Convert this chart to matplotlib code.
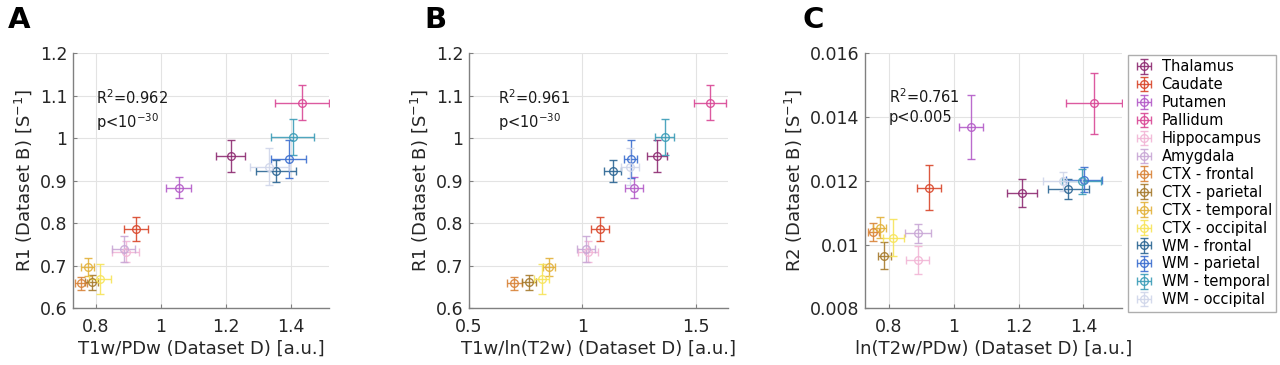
import matplotlib
matplotlib.use("Agg")
import matplotlib.pyplot as plt
import numpy as np

regions = ["Thalamus", "Caudate", "Putamen", "Pallidum", "Hippocampus", "Amygdala",
           "CTX - frontal", "CTX - parietal", "CTX - temporal", "CTX - occipital",
           "WM - frontal", "WM - parietal", "WM - temporal", "WM - occipital"]
colors = ["#8E2C72", "#D9472B", "#B45CC8", "#D94896", "#F2B6D6", "#C9A8D6",
          "#D9843A", "#A67B2E", "#E3B23C", "#F7E45A",
          "#2C6694", "#3D6FD0", "#3C9DB8", "#D0D6EA"]

# Dataset B R1 (shared by panels A and B)
r1 = [0.958, 0.786, 0.884, 1.084, 0.733, 0.740, 0.659, 0.661, 0.698, 0.669,
      0.923, 0.951, 1.003, 0.933]
r1_err = [0.037, 0.028, 0.024, 0.041, 0.025, 0.030, 0.015, 0.017, 0.021, 0.036,
          0.027, 0.045, 0.042, 0.044]

# Panel A: T1w/PDw
t1pd = [1.214, 0.924, 1.054, 1.433, 0.891, 0.885, 0.754, 0.787, 0.774, 0.812,
        1.354, 1.393, 1.405, 1.333]
t1pd_err = [0.045, 0.037, 0.039, 0.083, 0.041, 0.035, 0.018, 0.020, 0.020, 0.033,
            0.063, 0.054, 0.067, 0.060]

# Panel B: T1w/ln(T2w)
t1lnt2 = [1.331, 1.079, 1.228, 1.563, 1.025, 1.017, 0.700, 0.765, 0.853, 0.821,
          1.134, 1.214, 1.364, 1.211]
t1lnt2_err = [0.044, 0.041, 0.040, 0.070, 0.045, 0.040, 0.033, 0.030, 0.026, 0.033,
              0.039, 0.029, 0.041, 0.038]

# Panel C: ln(T2w/PDw) vs R2
lnt2pd = [1.211, 0.923, 1.054, 1.432, 0.888, 0.890, 0.752, 0.786, 0.772, 0.813,
          1.353, 1.401, 1.395, 1.336]
lnt2pd_err = [0.046, 0.036, 0.037, 0.086, 0.035, 0.040, 0.018, 0.020, 0.020, 0.033,
              0.063, 0.055, 0.060, 0.060]
r2 = [0.01161, 0.01178, 0.01368, 0.01443, 0.00952, 0.01035, 0.01040, 0.00965,
      0.01053, 0.01021, 0.01174, 0.01203, 0.01198, 0.01199]
r2_err = [0.00044, 0.00070, 0.00100, 0.00096, 0.00044, 0.00030, 0.00029, 0.00042,
          0.00034, 0.00058, 0.00031, 0.00039, 0.00038, 0.00030]

stats = [("R$^2$=0.962", "p<10$^{-30}$"), ("R$^2$=0.961", "p<10$^{-30}$"),
         ("R$^2$=0.761", "p<0.005")]

W, H = 1280, 365
fig = plt.figure(figsize=(W / 100, H / 100), dpi=100)

def ax_rect(l, r, t, b):
    return [l / W, 1 - b / H, (r - l) / W, (b - t) / H]

axA = fig.add_axes(ax_rect(72.7, 329.3, 53.3, 308.3))
axB = fig.add_axes(ax_rect(469, 727.7, 53.3, 308.3))
axC = fig.add_axes(ax_rect(865, 1121.7, 53.3, 308.3))

spine_col = "#808080"
tick_fs = 12.5
lab_fs = 13

def style(ax):
    ax.grid(True, color="#E3E3E3", linewidth=0.8)
    ax.set_axisbelow(True)
    for s in ["top", "right"]:
        ax.spines[s].set_visible(False)
    for s in ["left", "bottom"]:
        ax.spines[s].set_color(spine_col)
        ax.spines[s].set_linewidth(1.0)
    ax.tick_params(direction="in", length=3, color=spine_col, labelsize=tick_fs,
                   labelcolor="#262626")
    ax.tick_params(axis="x", pad=7)
    ax.tick_params(axis="y", pad=4)

def draw(ax, xs, xe, ys, ye):
    handles = []
    for i in range(len(regions)):
        h = ax.errorbar(xs[i], ys[i], xerr=xe[i], yerr=ye[i], fmt="o",
                        mfc="none", mec=colors[i], ms=5.5, mew=1.0,
                        ecolor=colors[i], elinewidth=1.0, capsize=3, capthick=1.0,
                        alpha=0.9, label=regions[i])
        handles.append(h)
    return handles

# Panel A
handles = draw(axA, t1pd, t1pd_err, r1, r1_err)
axA.set_xlim(0.728, 1.518)
axA.set_ylim(0.6, 1.2)
axA.set_xticks([0.8, 1.0, 1.2, 1.4])
axA.set_xticklabels(["0.8", "1", "1.2", "1.4"])
axA.set_yticks([0.6, 0.7, 0.8, 0.9, 1.0, 1.1, 1.2])
axA.set_yticklabels(["0.6", "0.7", "0.8", "0.9", "1", "1.1", "1.2"])
axA.set_xlabel("T1w/PDw (Dataset D) [a.u.]", fontsize=lab_fs, color="#262626", labelpad=3)
axA.set_ylabel("R1 (Dataset B) [S$^{-1}$]", fontsize=lab_fs, color="#262626")

# Panel B
draw(axB, t1lnt2, t1lnt2_err, r1, r1_err)
axB.set_xlim(0.5, 1.642)
axB.set_ylim(0.6, 1.2)
axB.set_xticks([0.5, 1.0, 1.5])
axB.set_xticklabels(["0.5", "1", "1.5"])
axB.set_yticks([0.6, 0.7, 0.8, 0.9, 1.0, 1.1, 1.2])
axB.set_yticklabels(["0.6", "0.7", "0.8", "0.9", "1", "1.1", "1.2"])
axB.set_xlabel("T1w/ln(T2w) (Dataset D) [a.u.]", fontsize=lab_fs, color="#262626", labelpad=3)
axB.set_ylabel("R1 (Dataset B) [S$^{-1}$]", fontsize=lab_fs, color="#262626")

# Panel C
draw(axC, lnt2pd, lnt2pd_err, r2, r2_err)
axC.set_xlim(0.726, 1.518)
axC.set_ylim(0.008, 0.016)
axC.set_xticks([0.8, 1.0, 1.2, 1.4])
axC.set_xticklabels(["0.8", "1", "1.2", "1.4"])
axC.set_yticks([0.008, 0.010, 0.012, 0.014, 0.016])
axC.set_yticklabels(["0.008", "0.01", "0.012", "0.014", "0.016"])
axC.set_xlabel("ln(T2w/PDw) (Dataset D) [a.u.]", fontsize=lab_fs, color="#262626", labelpad=3)
axC.set_ylabel("R2 (Dataset B) [S$^{-1}$]", fontsize=lab_fs, color="#262626")

for ax in (axA, axB, axC):
    style(ax)

text_pos = [(0.091, 0.825, 0.73), (0.112, 0.825, 0.73), (0.093, 0.83, 0.75)]
for ax, (s1, s2), (tx, ty1, ty2) in zip((axA, axB, axC), stats, text_pos):
    ax.text(tx, ty1, s1, transform=ax.transAxes, fontsize=10.5, va="center",
            ha="left", color="#1a1a1a")
    ax.text(tx, ty2, s2, transform=ax.transAxes, fontsize=10.5, va="center",
            ha="left", color="#1a1a1a")

for lab, x in zip(["A", "B", "C"], [8, 424, 803]):
    fig.text(x / W, 1 - 20 / H, lab, fontsize=21, fontweight="bold",
             va="center", ha="left")

leg = fig.legend(handles=handles, labels=regions, loc="upper left",
                 bbox_to_anchor=(1128 / W, 1 - 55 / H), fontsize=10.5,
                 frameon=True, fancybox=False, edgecolor="#9a9a9a",
                 handlelength=1.6, handletextpad=0.4, labelspacing=0.2,
                 borderpad=0.3, borderaxespad=0.0)
leg.get_frame().set_linewidth(1.0)

fig.savefig("out.png", dpi=100)
